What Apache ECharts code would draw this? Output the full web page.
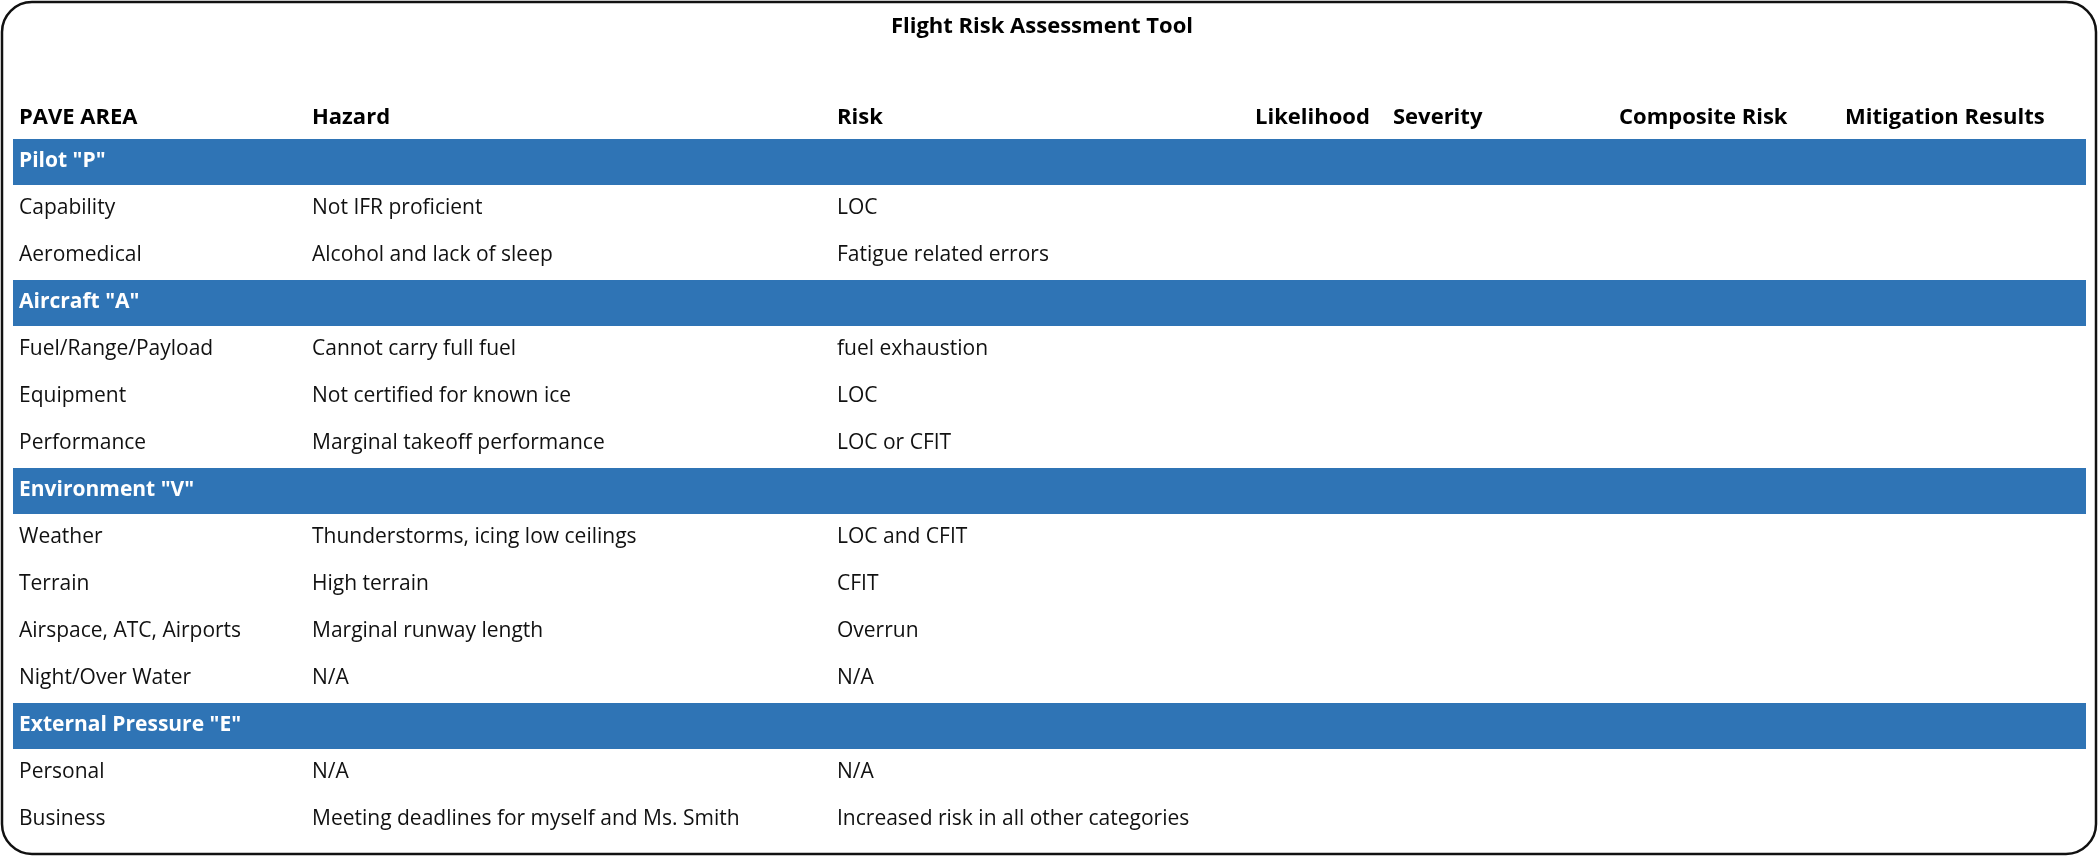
<!DOCTYPE html>
<html>
<head>
<meta charset="utf-8">
<script src="https://cdn.jsdelivr.net/npm/echarts@6/dist/echarts.min.js"></script>
<style>html,body{margin:0;padding:0;background:#fff}#main{width:2099px;height:857px}</style>
</head>
<body>
<div id="main"></div>
<script>
var title = 'Flight Risk Assessment Tool';
var headers = ['PAVE AREA', 'Hazard', 'Risk', 'Likelihood', 'Severity', 'Composite Risk', 'Mitigation Results'];
// banner rows have only the area name
var areas = ['Pilot "P"', 'Capability', 'Aeromedical', 'Aircraft "A"', 'Fuel/Range/Payload', 'Equipment', 'Performance',
	'Environment "V"', 'Weather', 'Terrain', 'Airspace, ATC, Airports', 'Night/Over Water',
	'External Pressure "E"', 'Personal', 'Business'];
var hazards = ['', 'Not IFR proficient', 'Alcohol and lack of sleep', '', 'Cannot carry full fuel', 'Not certified for known ice',
	'Marginal takeoff performance', '', 'Thunderstorms, icing low ceilings', 'High terrain', 'Marginal runway length', 'N/A',
	'', 'N/A', 'Meeting deadlines for myself and Ms. Smith'];
var risks = ['', 'LOC', 'Fatigue related errors', '', 'fuel exhaustion', 'LOC', 'LOC or CFIT', '', 'LOC and CFIT', 'CFIT',
	'Overrun', 'N/A', '', 'N/A', 'Increased risk in all other categories'];
var banners = [0, 3, 7, 12];

var colX = [19, 312, 837, 1255, 1393, 1619, 1845]; // 列的左边位置
var FONT = '"Open Sans", sans-serif';

var chart = echarts.init(document.getElementById('main'));
var rows = areas.map(function (a, i) { return [i, a, hazards[i], risks[i]]; });

chart.setOption({
	animation: false,
	grid: { left: 13, right: 13, top: 138, height: 705 },
	xAxis: { type: 'value', min: 0, max: 1, show: false },
	yAxis: { type: 'category', inverse: true, data: areas, show: false },
	graphic: [
		{ type: 'rect', shape: { x: 2, y: 2, width: 2094, height: 852, r: 30 },
			style: { fill: 'none', stroke: '#111', lineWidth: 2.5 } },
		{ type: 'text', x: 1042, y: 27, style: { text: title, font: 'bold 22px ' + FONT, fill: '#000', align: 'center', verticalAlign: 'middle' } }
	].concat(headers.map(function (h, i) {
		return { type: 'text', x: colX[i], y: 118, style: { text: h, font: 'bold 22px ' + FONT, fill: '#000', verticalAlign: 'middle' } };
	})),
	series: [{
		type: 'custom',
		data: rows,
		encode: { y: 0 },
		renderItem: function (params, api) {
			var idx = api.value(0);
			var c = api.coord([0, idx]);
			var size = api.size([0, 1]);
			var w = params.coordSys.width;
			var isBanner = banners.indexOf(idx) >= 0;
			var kids = [];
			if (isBanner) {
				kids.push({ type: 'rect', shape: { x: params.coordSys.x, y: c[1] - size[1] / 2 + 1, width: w, height: size[1] - 1 },
					style: { fill: '#2f74b5' } });
			}
			var texts = [areas[idx], hazards[idx], risks[idx]];
			texts.forEach(function (t, k) {
				if (!t) return;
				kids.push({ type: 'text', x: colX[k], y: c[1],
					style: { text: t, font: (isBanner ? 'bold ' : '') + '21px ' + FONT,
						fill: isBanner ? '#fff' : '#111', verticalAlign: 'middle' } });
			});
			return { type: 'group', children: kids };
		}
	}]
});
</script>
</body>
</html>
